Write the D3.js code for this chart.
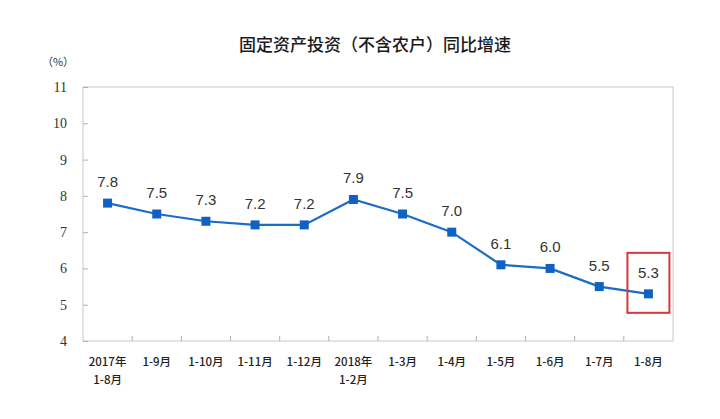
<!DOCTYPE html>
<html><head><meta charset="utf-8">
<script src="https://cdn.jsdelivr.net/npm/d3@7"></script>
<style>body{margin:0;background:#fff}svg{display:block}</style>
</head><body>
<svg id="c" width="720" height="419"></svg>
<script>
const categories = ["2017年\n1-8月","1-9月","1-10月","1-11月","1-12月","2018年\n1-2月","1-3月","1-4月","1-5月","1-6月","1-7月","1-8月"];
const values = [7.8,7.5,7.3,7.2,7.2,7.9,7.5,7.0,6.1,6.0,5.5,5.3];
const yTicks = [4,5,6,7,8,9,10,11];
const title = "固定资产投资（不含农户）同比增速";
const unit = "（%）";

const svg = d3.select("#c");
const L = 83, R = 673, T = 87, B = 341;
const x = d3.scaleBand().domain(categories).range([L, R]);
const y = d3.scaleLinear().domain([4, 11]).range([B, T]);
const serif = "'Liberation Serif','DejaVu Serif',serif";
const cjk = "'Noto Sans CJK SC',sans-serif";

svg.append("text").attr("x", 375).attr("y", 51).attr("text-anchor","middle")
  .attr("font-family", cjk).attr("font-size", 17).attr("font-weight",500).attr("fill","#1a1a1a").text(title);
svg.append("text").attr("x", 58).attr("y", 66).attr("text-anchor","middle")
  .attr("font-family", cjk).attr("font-size", 11).attr("fill","#333").text(unit);

// plot border
svg.append("rect").attr("x", L).attr("y", T).attr("width", R-L).attr("height", B-T)
  .attr("fill","none").attr("stroke","#c8c8c8").attr("stroke-width",1);

// y axis
const ya = svg.append("g").attr("transform",`translate(${L},0)`)
  .call(d3.axisRight(y).tickValues(yTicks).tickSize(5).tickFormat(""));
ya.select(".domain").remove();
ya.selectAll("line").attr("stroke","#b0b0b0");
svg.append("g").selectAll("text").data(yTicks).join("text")
  .attr("x", 67).attr("y", d => y(d) + 5).attr("text-anchor","end")
  .attr("font-family", serif).attr("font-size", 14).attr("fill","#333").text(d => d);

// x axis ticks at band boundaries
const bounds = categories.slice(1).map(c => x(c));
svg.append("g").selectAll("line").data(bounds).join("line")
  .attr("x1", d => d).attr("x2", d => d).attr("y1", B).attr("y2", B-5)
  .attr("stroke","#b0b0b0");
const xl = svg.append("g").selectAll("text").data(categories).join("text")
  .attr("x", d => x(d) + x.bandwidth()/2).attr("y", 366).attr("text-anchor","middle")
  .attr("font-family", cjk).attr("font-size", 11.5).attr("font-weight",500).attr("fill","#222");
xl.each(function(d){
  const parts = d.split("\n");
  const t = d3.select(this);
  parts.forEach((p,i) => t.append("tspan").attr("x", x(d)+x.bandwidth()/2).attr("dy", i? 18 : 0).text(p));
});

// line
const cx = d => x(d) + x.bandwidth()/2;
const line = d3.line().x((d,i) => cx(categories[i])).y(d => y(d));
svg.append("path").datum(values).attr("d", line).attr("fill","none")
  .attr("stroke","#1a6cc8").attr("stroke-width",2.2);
svg.append("g").selectAll("rect").data(values).join("rect")
  .attr("x",(d,i)=>cx(categories[i])-4.5).attr("y",d=>y(d)-4.5)
  .attr("width",9).attr("height",9).attr("fill","#0f62c4");
svg.append("g").selectAll("text").data(values).join("text")
  .attr("x",(d,i)=>cx(categories[i])).attr("y",d=>y(d)-16).attr("text-anchor","middle")
  .attr("font-family","'Liberation Sans',Arial,sans-serif").attr("font-size",15).attr("fill","#333")
  .text(d=>d.toFixed(1));

// highlight box around last
const lastC = categories[categories.length-1], lastV = values[values.length-1];
svg.append("rect").attr("x", cx(lastC)-21).attr("y", y(lastV)-41).attr("width",42).attr("height",60)
  .attr("fill","none").attr("stroke","#d9383a").attr("stroke-width",2);
</script>
</body></html>
